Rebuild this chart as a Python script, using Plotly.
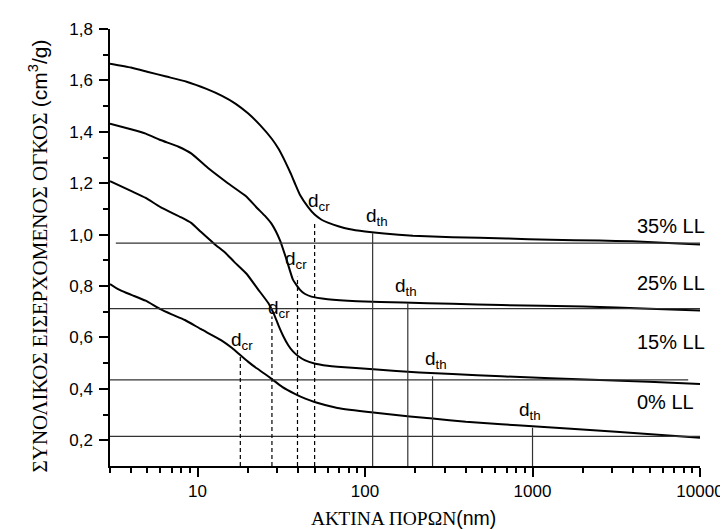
import numpy as np
import plotly.graph_objects as go

# ---------------- data ----------------
series_names = ["0% LL", "15% LL", "25% LL", "35% LL"]

x_0 = [3.0, 3.4, 3.74, 4.09, 4.9, 6.0, 7.0, 8.4, 10.5, 13.8, 16.0, 18.1, 20.0, 22.2, 25.0,
       27.8, 32.0, 38.1, 44.0, 49.9, 68.4, 112, 185, 253, 400, 652, 1000, 3155, 10000]
y_0 = [0.808, 0.786, 0.774, 0.764, 0.743, 0.710, 0.690, 0.668, 0.632, 0.590, 0.560, 0.530, 0.506, 0.483, 0.460,
       0.438, 0.408, 0.381, 0.362, 0.349, 0.326, 0.308, 0.293, 0.285, 0.272, 0.262, 0.255, 0.233, 0.210]

x_15 = [3.0, 4.0, 4.9, 6.0, 8.0, 9.2, 10.5, 12.6, 14.8, 16.5, 19.6, 22.8, 26.5, 28.5, 30.4,
        32.5, 34.8, 37.0, 39.8, 43.6, 49.9, 59.8, 68.4, 112, 211, 332, 652, 1282, 4955, 10000]
y_15 = [1.208, 1.170, 1.143, 1.107, 1.067, 1.045, 1.010, 0.964, 0.927, 0.895, 0.848, 0.790, 0.733, 0.693, 0.647,
        0.605, 0.570, 0.547, 0.528, 0.512, 0.499, 0.490, 0.486, 0.476, 0.464, 0.458, 0.449, 0.441, 0.428, 0.419]

x_25 = [3.0, 4.0, 4.9, 6.0, 7.7, 9.2, 11.5, 15.1, 19.4, 22.8, 25.5, 27.8, 31.1, 34.1, 37.1,
        40.8, 43.6, 47.8, 59.8, 89.7, 169, 332, 652, 2010, 5000, 10000]
y_25 = [1.432, 1.410, 1.393, 1.368, 1.342, 1.315, 1.260, 1.201, 1.150, 1.102, 1.070, 1.040, 0.977, 0.900, 0.825,
        0.786, 0.770, 0.759, 0.749, 0.741, 0.736, 0.731, 0.726, 0.720, 0.712, 0.705]

x_35 = [3.0, 4.0, 5.0, 6.5, 8.6, 11.3, 14.0, 16.9, 20.0, 23.7, 27.8, 30.5, 33.3, 36.0, 38.1, 41.0,
        45.6, 50.0, 55.0, 60.0, 70.0, 80.0, 100, 130, 193, 332, 700, 1282, 2500, 3955, 6000, 10000]
y_35 = [1.665, 1.650, 1.634, 1.615, 1.595, 1.567, 1.540, 1.509, 1.472, 1.425, 1.372, 1.333, 1.285, 1.238, 1.200, 1.153,
        1.108, 1.078, 1.058, 1.047, 1.032, 1.022, 1.012, 1.004, 0.996, 0.990, 0.985, 0.980, 0.977, 0.974, 0.968, 0.962]

# critical and threshold radii (nm) and the curve heights they reach
d_cr_x = [18.0, 27.8, 39.5, 50.0]
d_cr_top = [0.528, 0.682, 0.836, 1.042]
d_th_x = [1000, 253, 180, 111]
d_th_top = [0.249, 0.449, 0.733, 1.005]

# horizontal reference levels
ref_level = [0.215, 0.435, 0.712, 0.967]
ref_start = [3.0, 3.0, 3.0, 3.25]
ref_end = [10000, 8500, 10000, 10000]

y_bottom = 0.1
x_min, x_max = 3.0, 10000
y_max = 1.8

xtick_vals = [10, 100, 1000, 10000]
xtick_text = ["10", "100", "1000", "10000"]
xminor_vals = [3, 4, 5, 6, 7, 8, 9, 20, 30, 40, 50, 60, 70, 80, 90,
               200, 300, 400, 500, 600, 700, 800, 900,
               2000, 3000, 4000, 5000, 6000, 7000, 8000, 9000]
ytick_vals = [0.2, 0.4, 0.6, 0.8, 1.0, 1.2, 1.4, 1.6, 1.8]
yminor_vals = [0.3, 0.5, 0.7, 0.9, 1.1, 1.3, 1.5, 1.7]

curves_x = [x_0, x_15, x_25, x_35]
curves_y = [y_0, y_15, y_25, y_35]

SANS = "Liberation Sans, Arial, sans-serif"
SERIF = "Liberation Serif, Times New Roman, serif"

# ---------------- figure ----------------
fig = go.Figure()

for xs, ys, nm in zip(curves_x, curves_y, series_names):
    fig.add_trace(go.Scatter(x=xs, y=ys, mode="lines", name=nm,
                             line=dict(color="black", width=2, shape="spline", smoothing=0.45),
                             hoverinfo="skip", showlegend=False))

for lv, xs0, xs1 in zip(ref_level, ref_start, ref_end):
    fig.add_trace(go.Scatter(x=[xs0, xs1], y=[lv, lv], mode="lines",
                             line=dict(color="#333333", width=1.2),
                             hoverinfo="skip", showlegend=False))

for xv, top in zip(d_cr_x, d_cr_top):
    fig.add_trace(go.Scatter(x=[xv, xv], y=[y_bottom, top], mode="lines",
                             line=dict(color="black", width=1.2, dash="4px,3px"),
                             hoverinfo="skip", showlegend=False))

for xv, top in zip(d_th_x, d_th_top):
    fig.add_trace(go.Scatter(x=[xv, xv], y=[y_bottom, top], mode="lines",
                             line=dict(color="#333333", width=1.2),
                             hoverinfo="skip", showlegend=False))

annotations = []
# d labels (left edge, top of glyph)
d_labels = [
    ("d<sub>cr</sub>", 45.4, 1.162), ("d<sub>th</sub>", 102, 1.104),
    ("d<sub>cr</sub>", 33.3, 0.938), ("d<sub>th</sub>", 151, 0.831),
    ("d<sub>cr</sub>", 26.5, 0.746), ("d<sub>th</sub>", 227, 0.546),
    ("d<sub>cr</sub>", 15.8, 0.623), ("d<sub>th</sub>", 831, 0.350),
]
for txt, xv, yv in d_labels:
    annotations.append(dict(text=txt, x=np.log10(xv), y=yv, xref="x", yref="y",
                            xanchor="left", yanchor="top", showarrow=False,
                            xshift=-2, yshift=5,
                            font=dict(family=SANS, size=19, color="black")))

ll_y = [0.35, 0.583, 0.8135, 1.032]
for nm, yv in zip(series_names, ll_y):
    annotations.append(dict(text=nm, x=0.89, y=yv, xref="paper", yref="y",
                            xanchor="left", yanchor="middle", showarrow=False,
                            font=dict(family=SANS, size=20, color="black")))

annotations.append(dict(
    text='ΑΚΤΙΝΑ ΠΟΡΩΝ<span style="font-family:Liberation Sans, Arial, sans-serif">(nm)</span>',
    x=0.4967, y=-0.12, xref="paper", yref="paper", xanchor="center", yanchor="middle",
    showarrow=False, font=dict(family=SERIF, size=19.5, color="black")))

annotations.append(dict(
    text='ΣΥΝΟΛΙΚΟΣ ΕΙΣΕΡΧΟΜΕΝΟΣ ΟΓΚΟΣ <span style="font-family:Liberation Sans, Arial, sans-serif">(cm<sup>3</sup>/g)</span>',
    x=-0.1217, y=0.48, xref="paper", yref="paper", xanchor="center", yanchor="middle",
    textangle=-90, showarrow=False, font=dict(family=SERIF, size=21, color="black")))

fig.update_layout(
    width=728, height=529,
    margin=dict(l=102, r=26, t=16, b=71),
    paper_bgcolor="white", plot_bgcolor="white",
    separators=",.",
    font=dict(family=SANS, size=17, color="black"),
    annotations=annotations,
    showlegend=False,
)

fig.update_xaxes(
    type="log", range=[np.log10(x_min), np.log10(x_max)],
    tickmode="array", tickvals=xtick_vals, ticktext=xtick_text,
    ticks="outside", ticklen=9, tickwidth=1.5, tickcolor="black",
    showline=True, linecolor="black", linewidth=1.5,
    showgrid=False, zeroline=False,
    tickfont=dict(family=SANS, size=17),
    minor=dict(tickmode="array", tickvals=xminor_vals, ticks="outside", ticklen=5.5,
               tickwidth=1.5, tickcolor="black", showgrid=False),
)

fig.update_yaxes(
    range=[y_bottom, y_max],
    tickmode="array", tickvals=ytick_vals, tickformat=".1f",
    ticks="outside", ticklen=9, tickwidth=1.5, tickcolor="black",
    showline=True, linecolor="black", linewidth=1.5,
    showgrid=False, zeroline=False,
    tickfont=dict(family=SANS, size=17),
    ticklabelstandoff=3,
    minor=dict(tickmode="array", tickvals=yminor_vals, ticks="outside", ticklen=5.5,
               tickwidth=1.5, tickcolor="black", showgrid=False),
)

fig.write_html("out.html")
